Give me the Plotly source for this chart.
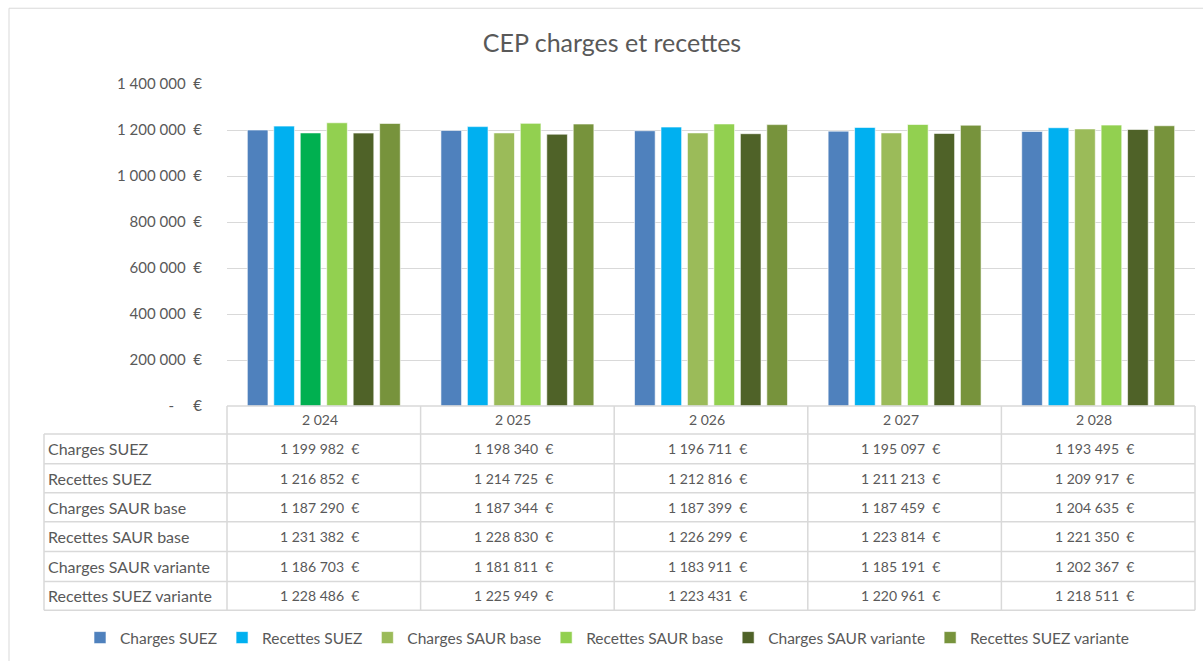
import plotly.graph_objects as go

years = ["2 024", "2 025", "2 026", "2 027", "2 028"]
series_names = ["Charges SUEZ", "Recettes SUEZ", "Charges SAUR base",
                "Recettes SAUR base", "Charges SAUR variante", "Recettes SUEZ variante"]
charges_suez = [1199982, 1198340, 1196711, 1195097, 1193495]
recettes_suez = [1216852, 1214725, 1212816, 1211213, 1209917]
charges_saur_base = [1187290, 1187344, 1187399, 1187459, 1204635]
recettes_saur_base = [1231382, 1228830, 1226299, 1223814, 1221350]
charges_saur_variante = [1186703, 1181811, 1183911, 1185191, 1202367]
recettes_suez_variante = [1228486, 1225949, 1223431, 1220961, 1218511]
series_values = [charges_suez, recettes_suez, charges_saur_base,
                 recettes_saur_base, charges_saur_variante, recettes_suez_variante]
y_tickvals = [0, 200000, 400000, 600000, 800000, 1000000, 1200000, 1400000]
y_ticktext = ["-     €", "200 000  €", "400 000  €", "600 000  €", "800 000  €",
              "1 000 000  €", "1 200 000  €", "1 400 000  €"]

colors = ["#4F81BD", "#00B0F0", "#9BBB59", "#92D050", "#4F6228", "#77933C"]
# the 2024 "Charges SAUR base" bar is drawn in a different green in the reference
point_colors = {2: ["#00B050", "#9BBB59", "#9BBB59", "#9BBB59", "#9BBB59"]}

FONT = "Lato, Calibri, Carlito, sans-serif"
TXT = "#595959"
GRID = "#D9D9D9"

W_PX, H_PX = 1203, 661
L, R, T, B = 227, 1195, 84, 407
PW, PH = R - L, B - T


def px(x):
    return (x - L) / PW


def py(y):
    return (B - y) / PH


def fmt(v):
    return f"{v:,}".replace(",", " ") + "  €"


fig = go.Figure()
for i, (name, vals) in enumerate(zip(series_names, series_values)):
    xs, ys = list(years), list(vals)
    cols = point_colors.get(i, [colors[i]] * len(years))
    # rotate so the legend swatch (taken from the first point) shows the series colour
    if cols[0] != colors[i]:
        xs, ys, cols = xs[1:] + xs[:1], ys[1:] + ys[:1], cols[1:] + cols[:1]
    fig.add_trace(go.Bar(
        x=xs, y=ys, name=name,
        marker=dict(color=cols, line=dict(color="rgba(255,255,255,0.6)", width=1)),
    ))

shapes = []
annotations = []
line_style = dict(color=GRID, width=1.5)

col_edges = [L + PW * k / len(years) for k in range(len(years) + 1)]
label_left = 44
row_edges = [407, 435, 465, 494, 523, 553, 583, 612]

shapes.append(dict(type="line", xref="paper", yref="paper",
                   x0=px(L), x1=px(R), y0=py(row_edges[0]), y1=py(row_edges[0]), line=line_style))
for yy in row_edges[1:]:
    shapes.append(dict(type="line", xref="paper", yref="paper",
                       x0=px(label_left), x1=px(R), y0=py(yy), y1=py(yy), line=line_style))
shapes.append(dict(type="line", xref="paper", yref="paper",
                   x0=px(label_left), x1=px(label_left), y0=py(row_edges[1]), y1=py(row_edges[-1]),
                   line=line_style))
for xx in col_edges:
    shapes.append(dict(type="line", xref="paper", yref="paper",
                       x0=px(xx), x1=px(xx), y0=py(row_edges[0]), y1=py(row_edges[-1]),
                       line=line_style))
shapes.append(dict(type="rect", xref="paper", yref="paper",
                   x0=px(9), x1=px(1215), y0=py(8), y1=py(680),
                   line=dict(color="#D9D9D9", width=1)))

for k, yr in enumerate(years):
    cx = (col_edges[k] + col_edges[k + 1]) / 2
    annotations.append(dict(xref="paper", yref="paper", x=px(cx - 4), y=py((row_edges[0] + row_edges[1]) / 2),
                            text=yr, showarrow=False, xanchor="center", yanchor="middle",
                            font=dict(family=FONT, size=14, color=TXT)))
for r, (name, vals) in enumerate(zip(series_names, series_values)):
    cy = (row_edges[r + 1] + row_edges[r + 2]) / 2
    annotations.append(dict(xref="paper", yref="paper", x=px(label_left + 2), y=py(cy),
                            text=name, showarrow=False, xanchor="left", yanchor="middle",
                            font=dict(family=FONT, size=16, color=TXT)))
    for k, v in enumerate(vals):
        cx = (col_edges[k] + col_edges[k + 1]) / 2
        annotations.append(dict(xref="paper", yref="paper", x=px(cx - 4), y=py(cy),
                                text=fmt(v), showarrow=False, xanchor="center", yanchor="middle",
                                font=dict(family=FONT, size=14, color=TXT)))

fig.update_layout(
    width=W_PX, height=H_PX,
    margin=dict(l=L, r=W_PX - R, t=T, b=H_PX - B, pad=0),
    paper_bgcolor="white", plot_bgcolor="white",
    title=dict(text="CEP charges et recettes", x=612 / W_PX, xref="container", xanchor="center",
               y=1 - 43 / H_PX, yref="container", yanchor="middle",
               font=dict(family=FONT, size=25, color=TXT)),
    barmode="group", bargap=0.18, bargroupgap=0.22,
    xaxis=dict(showticklabels=False, showgrid=False, zeroline=False, showline=False,
               ticks="", categoryorder="array", categoryarray=years),
    yaxis=dict(range=[0, 1400000], tickvals=y_tickvals, ticktext=y_ticktext,
               showgrid=True, gridcolor=GRID, gridwidth=1, zeroline=False, showline=False,
               ticks="", ticklabelstandoff=24,
               tickfont=dict(family=FONT, size=15, color=TXT)),
    legend=dict(orientation="h", x=px(80), xanchor="left", y=py(638), yanchor="middle",
                font=dict(family=FONT, size=15.5, color=TXT), itemwidth=30,
                bgcolor="rgba(0,0,0,0)"),
    shapes=shapes, annotations=annotations,
    showlegend=True,
)

fig.write_html("out.html", config={"displayModeBar": False},
               post_script="document.body.style.margin='0px';")
